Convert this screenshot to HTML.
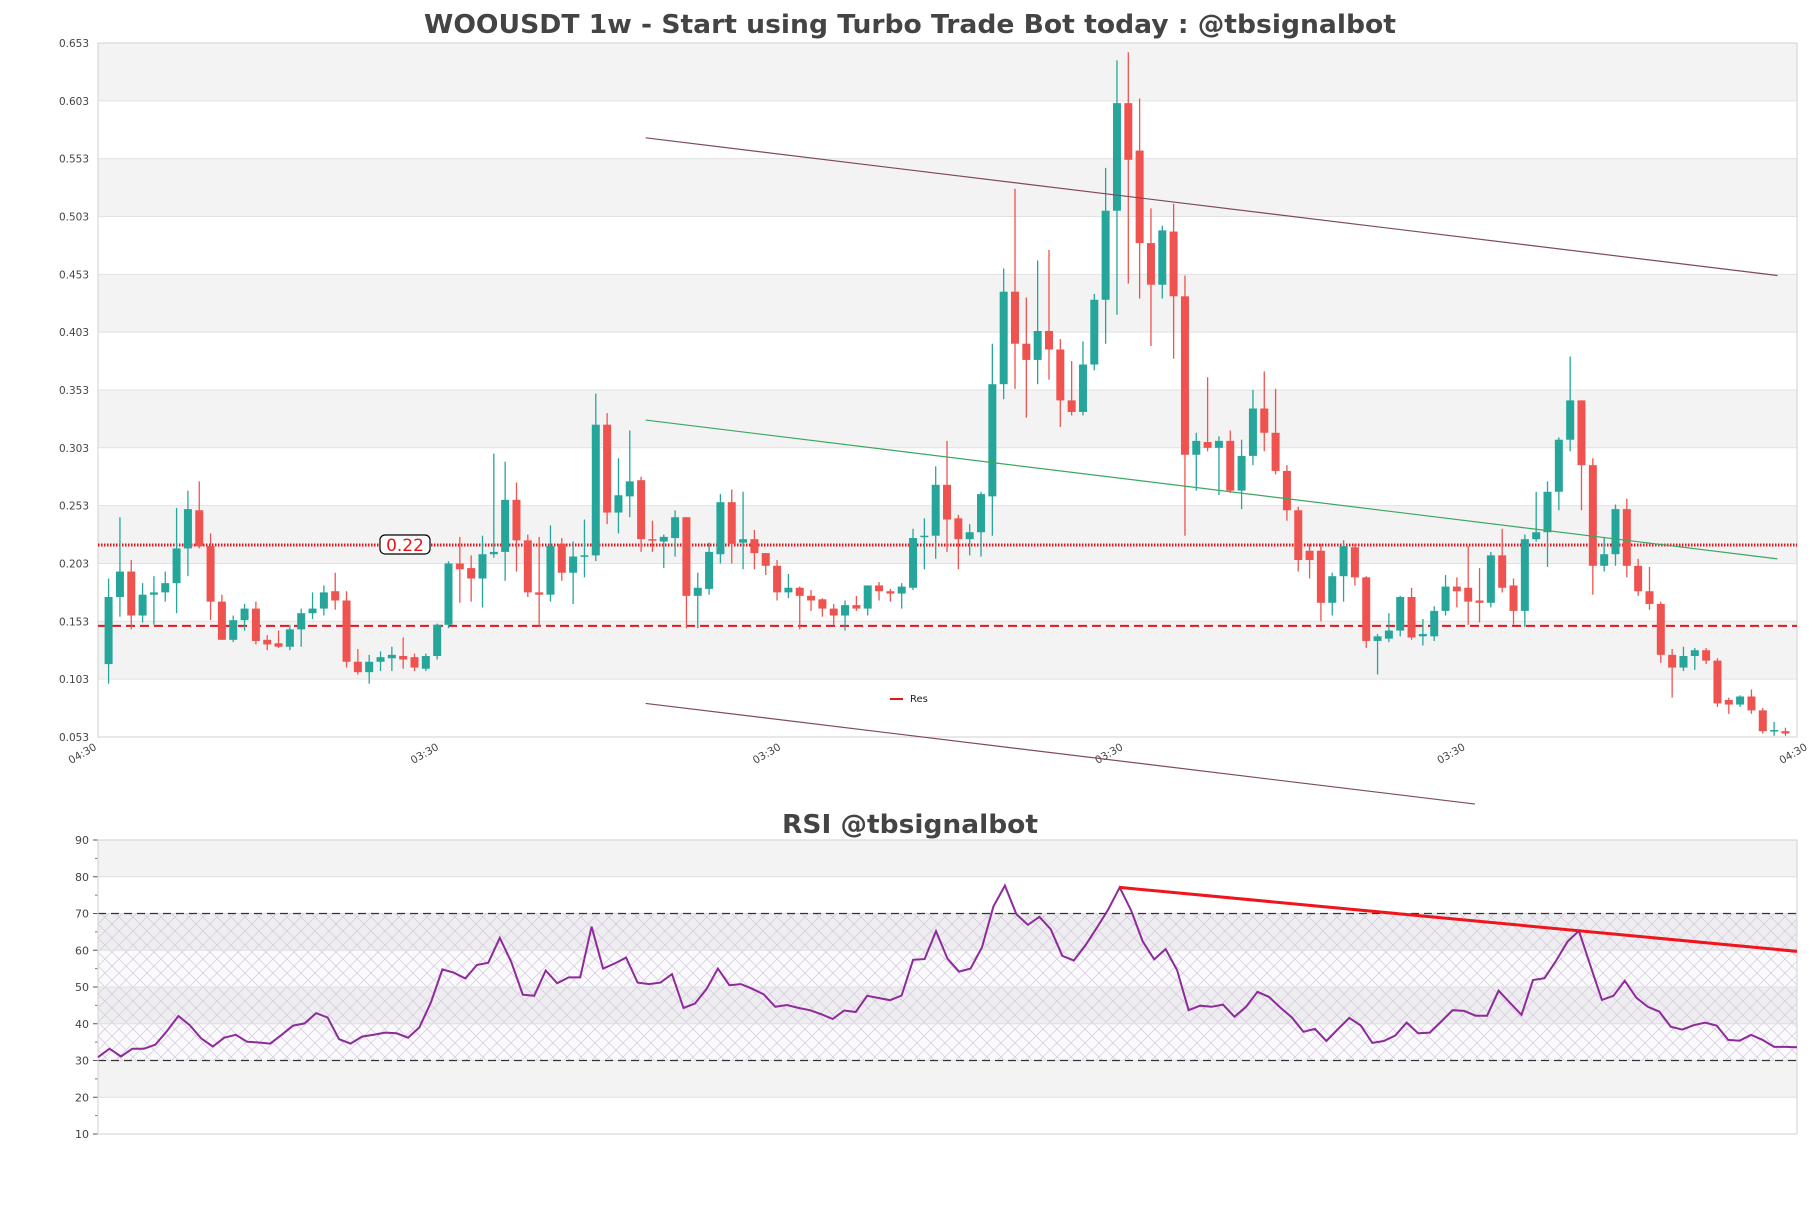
<!DOCTYPE html>
<html><head><meta charset="utf-8"><style>
html,body{margin:0;padding:0;background:#fff;}
svg{display:block;font-family:"DejaVu Sans","Liberation Sans",sans-serif;}
</style></head><body>
<svg id="chart" width="1811" height="1208" viewBox="0 0 1811 1208" xmlns="http://www.w3.org/2000/svg">
<defs>
<pattern id="hatch" width="14" height="14" patternUnits="userSpaceOnUse">
<path d="M0,0 L14,14 M14,0 L0,14" stroke="#d6cbe0" stroke-width="0.7" fill="none"/>
</pattern>
</defs>
<text x="910" y="33" text-anchor="middle" font-size="26" font-weight="bold" fill="#444" textLength="972" lengthAdjust="spacingAndGlyphs">WOOUSDT 1w - Start using Turbo Trade Bot today : @tbsignalbot</text>
<text x="910" y="833" text-anchor="middle" font-size="26" font-weight="bold" fill="#444" textLength="256" lengthAdjust="spacingAndGlyphs">RSI @tbsignalbot</text>
<g id="main"></g>
<g id="rsi"></g>
</svg>
<script>
// ---- price chart data ----
const opens =  [0.116,0.174,0.196,0.158,0.176,0.178,0.186,0.216,0.249,0.218,0.170,0.137,0.154,0.164,0.137,0.134,0.131,0.146,0.160,0.164,0.179,0.171,0.118,0.109,0.118,0.121,0.123,0.122,0.112,0.123,0.150,0.203,0.199,0.190,0.211,0.213,0.258,0.223,0.178,0.176,
0.220,0.195,0.209,0.210,0.323,0.247,0.261,0.275,0.224,0.222,0.225,0.243,0.175,0.181,0.211,0.256,0.221,0.224,0.212,0.201,0.178,0.182,0.175,0.172,0.164,0.158,0.167,0.164,0.184,0.179,0.177,0.182,0.226,0.227,0.271,0.242,0.224,0.230,
0.261,0.358,0.438,0.393,0.379,0.404,0.388,0.344,0.334,0.375,0.431,0.508,0.601,0.560,0.480,0.444,0.490,0.434,0.297,0.308,0.303,0.309,0.266,0.296,0.337,0.316,0.283,0.249,0.214,0.214,0.169,0.192,0.217,0.191,0.136,0.138,0.145,0.174,0.140,0.140,0.162,0.183,0.182,0.171,0.169,0.210,0.184,0.162,0.224,0.230,0.265,0.310,0.344,0.288,0.201,0.211,0.250,0.201,0.179,0.168,0.124,0.113,0.123,0.128,0.119,0.085,0.081,0.088,0.076,0.058,0.058];
const closes = [0.174,0.196,0.158,0.176,0.178,0.186,0.216,0.250,0.218,0.170,0.137,0.154,0.164,0.136,0.133,0.131,0.146,0.160,0.164,0.178,0.171,0.118,0.109,0.118,0.122,0.124,0.120,0.113,0.123,0.150,0.203,0.198,0.190,0.211,0.213,0.258,0.223,0.178,0.176,0.218,
0.195,0.209,0.210,0.323,0.247,0.262,0.274,0.224,0.223,0.226,0.243,0.175,0.182,0.213,0.256,0.220,0.224,0.212,0.201,0.178,0.182,0.175,0.171,0.164,0.158,0.167,0.164,0.184,0.179,0.177,0.183,0.225,0.227,0.271,0.241,0.224,0.230,0.263,
0.358,0.438,0.393,0.379,0.404,0.388,0.344,0.334,0.375,0.431,0.508,0.601,0.552,0.480,0.444,0.491,0.434,0.297,0.309,0.303,0.309,0.266,0.296,0.337,0.316,0.283,0.249,0.206,0.206,0.169,0.192,0.218,0.191,0.136,0.140,0.145,0.174,0.139,0.142,0.162,0.183,0.179,0.170,0.169,0.210,0.182,0.162,0.224,0.230,0.265,0.310,0.344,0.288,0.201,0.211,0.250,0.201,0.179,0.168,0.124,0.113,0.123,0.128,0.119,0.082,0.081,0.088,0.076,0.058,0.059,0.056];
const highs =  [0.190,0.243,0.206,0.186,0.192,0.196,0.251,0.266,0.274,0.229,0.176,0.158,0.168,0.170,0.141,0.145,0.150,0.164,0.178,0.184,0.195,0.179,0.129,0.124,0.127,0.131,0.139,0.125,0.125,0.151,0.205,0.226,0.210,0.227,0.298,0.291,0.273,0.228,0.226,0.236,
0.225,0.222,0.241,0.350,0.333,0.294,0.318,0.278,0.240,0.228,0.249,0.243,0.195,0.221,0.263,0.267,0.265,0.232,0.212,0.206,0.194,0.183,0.180,0.173,0.168,0.171,0.175,0.184,0.187,0.181,0.186,0.233,0.242,0.287,0.309,0.245,0.237,0.265,
0.393,0.458,0.527,0.433,0.465,0.474,0.397,0.378,0.395,0.436,0.545,0.638,0.645,0.605,0.510,0.495,0.514,0.452,0.316,0.364,0.313,0.318,0.310,0.353,0.369,0.354,0.288,0.252,0.220,0.220,0.195,0.223,0.220,0.192,0.142,0.160,0.175,0.182,0.155,0.166,0.193,0.191,0.218,0.199,0.213,0.233,0.190,0.228,0.265,0.274,0.312,0.382,0.344,0.294,0.226,0.254,0.259,0.207,0.200,0.170,0.129,0.131,0.130,0.130,0.121,0.087,0.089,0.094,0.078,0.066,0.061];
const lows =   [0.099,0.157,0.146,0.152,0.150,0.170,0.160,0.192,0.216,0.154,0.137,0.135,0.145,0.133,0.128,0.130,0.128,0.131,0.155,0.158,0.163,0.113,0.107,0.099,0.110,0.110,0.112,0.110,0.110,0.120,0.147,0.169,0.170,0.165,0.208,0.188,0.196,0.174,0.148,0.170,
0.188,0.168,0.191,0.205,0.237,0.229,0.243,0.213,0.213,0.199,0.209,0.147,0.147,0.176,0.203,0.203,0.198,0.198,0.193,0.171,0.173,0.146,0.162,0.157,0.150,0.145,0.162,0.158,0.171,0.170,0.164,0.180,0.198,0.207,0.213,0.198,0.210,0.209,
0.227,0.345,0.354,0.329,0.358,0.362,0.321,0.331,0.331,0.370,0.393,0.418,0.445,0.432,0.391,0.432,0.380,0.227,0.266,0.300,0.262,0.264,0.250,0.288,0.300,0.280,0.240,0.196,0.190,0.153,0.158,0.170,0.184,0.130,0.107,0.135,0.140,0.137,0.132,0.136,0.158,0.165,0.150,0.152,0.165,0.178,0.150,0.148,0.222,0.200,0.249,0.300,0.249,0.176,0.196,0.201,0.191,0.175,0.163,0.117,0.087,0.110,0.111,0.116,0.079,0.073,0.079,0.073,0.056,0.054,0.054];
const priceTicks = [0.653,0.603,0.553,0.503,0.453,0.403,0.353,0.303,0.253,0.203,0.153,0.103,0.053];
const xTickLabels = ["04:30","03:30","03:30","03:30","03:30","04:30"];
const xTickIndex = [-1.0,29.2,59.4,89.6,119.8,150.0];
const resLevels = [0.219,0.149];
const resLabel = "0.22";
// trend lines: [startIndex, startPrice, endIndex, endPrice]
const channelTop = [47.4,0.571,147.3,0.452];
const channelBottom = [47.4,0.082,120.6,-0.005];
const greenTrend = [47.4,0.327,147.3,0.207];
// ---- RSI data ----
const rsiValues = [30.9,33.2,31.1,33.2,33.2,34.3,38.0,42.1,39.6,36.0,33.8,36.2,37.0,35.1,34.9,34.6,37.0,39.5,40.1,42.9,41.7,35.8,34.6,36.5,37.0,37.6,37.4,36.2,39.0,45.8,54.8,53.9,52.3,56.0,56.6,63.4,56.8,47.9,47.6,54.5,
51.0,52.6,52.6,66.4,55.0,56.4,58.0,51.2,50.8,51.2,53.5,44.3,45.5,49.4,55.0,50.5,50.8,49.5,48.0,44.6,45.1,44.3,43.7,42.6,41.3,43.6,43.2,47.6,47.0,46.4,47.7,57.4,57.6,65.2,57.7,54.2,55.0,60.8,71.9,77.6,69.8,66.9,69.1,65.7,58.5,57.2,61.3,66.1,71.1,77.1,70.8,62.4,57.5,60.3,54.6,43.7,44.9,44.6,45.2,41.9,44.6,48.7,47.3,44.4,41.7,37.8,38.6,35.3,38.5,41.6,39.5,34.8,35.3,36.8,40.3,37.4,37.6,40.6,43.7,43.5,42.2,42.2,49.0,45.7,42.4,51.9,52.4,57.1,62.3,65.3,55.8,46.5,47.6,51.7,47.1,44.6,43.3,39.2,38.4,39.6,40.3,39.5,35.6,35.4,37.0,35.6,33.7,33.7,33.6];
const rsiTicks = [90,80,70,60,50,40,30,20,10];
const rsiTrend = [89,77.1,148,59.7];

const NS="http://www.w3.org/2000/svg";
const PL=98, PR=1797, PT=43, PB=737, RT=840, RB=1134;
const xC = i => 108.6 + 11.33*i;
const yP = p => PT + (0.653-p)*1156.6;
const xR = i => 98 + 11.48*i;
const yR = v => RT + (90-v)*3.675;
function mk(parent, tag, attrs){const e=document.createElementNS(NS,tag);for(const k in attrs)e.setAttribute(k,attrs[k]);parent.appendChild(e);return e;}

const main=document.getElementById('main');
for(let k=0;k<priceTicks.length-1;k++){
  const r=mk(main,'rect',{x:PL,y:yP(priceTicks[k]),width:PR-PL,height:yP(priceTicks[k+1])-yP(priceTicks[k]),fill:k%2===0?'#f3f3f3':'#ffffff'});
  
  
}
priceTicks.forEach(p=>{
  const l=mk(main,'line',{x1:PL,x2:PR,y1:yP(p),y2:yP(p),stroke:'#e2e2e2','stroke-width':1});
  
  
  const t=mk(main,'text',{x:PL-9,y:yP(p)+4,'text-anchor':'end','font-size':10.5,fill:'#444'});
  t.textContent=p.toFixed(3);
  
  
});
const frame=mk(main,'rect',{x:PL,y:PT,width:PR-PL,height:PB-PT,fill:'none',stroke:'#d8d8d8','stroke-width':1.2});


xTickLabels.forEach((s,k)=>{
  const x=xC(xTickIndex[k]);
  const t=mk(main,'text',{x:x,y:PB+12,'text-anchor':'end','font-size':10.5,fill:'#444',transform:`rotate(-30 ${x} ${PB+12})`});
  t.textContent=s;
  
  
});
const r1=mk(main,'line',{x1:PL,x2:PR,y1:yP(resLevels[0]),y2:yP(resLevels[0]),stroke:'#e8141c','stroke-width':3,'stroke-dasharray':'1.5 1.5'});


const r2=mk(main,'line',{x1:PL,x2:PR,y1:yP(resLevels[1]),y2:yP(resLevels[1]),stroke:'#e8141c','stroke-width':2,'stroke-dasharray':'9 5'});


for(let i=0;i<opens.length;i++){
  const up=closes[i]>=opens[i];
  const col=up?'#26a69a':'#ef5350';
  const g=mk(main,'g',{});
  
  
  mk(g,'line',{x1:xC(i),x2:xC(i),y1:yP(highs[i]),y2:yP(lows[i]),stroke:col,'stroke-width':1.3});
  const top=yP(Math.max(opens[i],closes[i])), bot=yP(Math.min(opens[i],closes[i]));
  mk(g,'rect',{x:xC(i)-4,y:top,width:8,height:Math.max(1.5,bot-top),fill:col});
}
function tline(arr,col,name,w){
  const l=mk(main,'line',{x1:xC(arr[0]),y1:yP(arr[1]),x2:xC(arr[2]),y2:yP(arr[3]),stroke:col,'stroke-width':w});
  
  
}
tline(channelTop,'#7d4a5e','channel-top-line',1.2);
tline(channelBottom,'#7d4a5e','channel-bottom-line',1.2);
tline(greenTrend,'#3aa860','green-trend-line',1.2);
const lb=mk(main,'g',{});


mk(lb,'rect',{x:380,y:yP(resLevels[0])-10,width:50,height:19,rx:5,fill:'#fff',stroke:'#000','stroke-width':1.2});
const lt=mk(lb,'text',{x:405,y:yP(resLevels[0])+6,'text-anchor':'middle','font-size':17,fill:'#e8141c'});
lt.textContent=resLabel;
const lg=mk(main,'g',{});


mk(lg,'line',{x1:890,x2:903,y1:699,y2:699,stroke:'#e8141c','stroke-width':2});
const lgt=mk(lg,'text',{x:910,y:702,'font-size':10,fill:'#222'});
lgt.textContent='Res';

const rsi=document.getElementById('rsi');
for(let k=0;k<rsiTicks.length-1;k++){
  const r=mk(rsi,'rect',{x:PL,y:yR(rsiTicks[k]),width:PR-PL,height:yR(rsiTicks[k+1])-yR(rsiTicks[k]),fill:k%2===0?'#f3f3f3':'#ffffff'});
  
  
}
const hz=mk(rsi,'rect',{x:PL,y:yR(70),width:PR-PL,height:yR(30)-yR(70),fill:'url(#hatch)'});


const hz2=mk(rsi,'rect',{x:PL,y:yR(70),width:PR-PL,height:yR(30)-yR(70),fill:'#b9a6cc','fill-opacity':0.07});


rsiTicks.forEach(v=>{
  const l=mk(rsi,'line',{x1:PL,x2:PR,y1:yR(v),y2:yR(v),stroke:'#e0e0e0','stroke-width':1});
  
  
  const tk=mk(rsi,'line',{x1:PL-5,x2:PL,y1:yR(v),y2:yR(v),stroke:'#555','stroke-width':1});
  
  
  const t=mk(rsi,'text',{x:PL-9,y:yR(v)+4,'text-anchor':'end','font-size':11,fill:'#444'});
  t.textContent=v;
  
  
});
for(let v=15;v<90;v+=10){
  const tk=mk(rsi,'line',{x1:PL-3,x2:PL,y1:yR(v),y2:yR(v),stroke:'#777','stroke-width':1});
  
  
}
[70,30].forEach(v=>{
  const l=mk(rsi,'line',{x1:PL,x2:PR,y1:yR(v),y2:yR(v),stroke:'#333','stroke-width':1.2,'stroke-dasharray':'8 5'});
  
  
});
const rf=mk(rsi,'rect',{x:PL,y:RT,width:PR-PL,height:RB-RT,fill:'none',stroke:'#d8d8d8','stroke-width':1.2});


const pts=rsiValues.map((v,i)=>xR(i).toFixed(1)+','+yR(v).toFixed(1)).join(' ');
const pl=mk(rsi,'polyline',{points:pts,fill:'none',stroke:'#8e2a9c','stroke-width':2});


const rt=mk(rsi,'line',{x1:xR(rsiTrend[0]),y1:yR(rsiTrend[1]),x2:PR,y2:yR(rsiTrend[3]),stroke:'#f0141c','stroke-width':3});


</script>
</body></html>
